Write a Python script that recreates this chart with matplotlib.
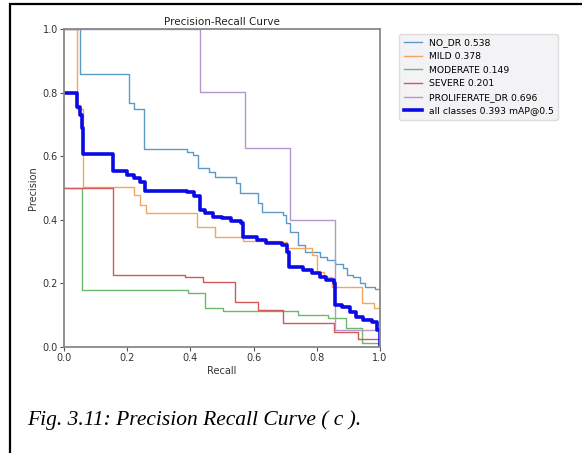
import numpy as np
import matplotlib
matplotlib.use("Agg")
import matplotlib.pyplot as plt
from matplotlib.patches import Rectangle

# step curves: recall where each flat segment starts, precision on it
no_dr_r = [0.0, 0.05, 0.206, 0.222, 0.253, 0.389, 0.408, 0.424, 0.459, 0.478, 0.544, 0.557,
           0.614, 0.627, 0.693, 0.703, 0.715, 0.741, 0.763, 0.81, 0.832, 0.858, 0.883,
           0.896, 0.915, 0.937, 0.953, 0.984, 1.0]
no_dr_p = [1.0, 0.858, 0.767, 0.75, 0.623, 0.613, 0.605, 0.563, 0.55, 0.535, 0.516, 0.484,
           0.453, 0.425, 0.415, 0.39, 0.362, 0.321, 0.299, 0.283, 0.274, 0.261, 0.248,
           0.226, 0.22, 0.201, 0.189, 0.182, 0.0]

mild_r = [0.0, 0.041, 0.06, 0.22, 0.24, 0.259, 0.42, 0.478, 0.567, 0.684, 0.705, 0.785,
          0.80, 0.823, 0.848, 0.943, 0.98, 1.0]
mild_p = [1.0, 0.75, 0.503, 0.478, 0.447, 0.421, 0.377, 0.346, 0.333, 0.33, 0.311, 0.289,
          0.236, 0.22, 0.189, 0.138, 0.123, 0.0]

moderate_r = [0.0, 0.057, 0.392, 0.446, 0.503, 0.74, 0.835, 0.892, 0.943, 1.0]
moderate_p = [0.5, 0.179, 0.17, 0.123, 0.113, 0.10, 0.091, 0.06, 0.013, 0.0]

severe_r = [0.0, 0.156, 0.383, 0.44, 0.541, 0.614, 0.693, 0.855, 0.93, 1.0]
severe_p = [0.5, 0.226, 0.22, 0.204, 0.141, 0.116, 0.077, 0.048, 0.025, 0.0]

prolif_r = [0.0, 0.43, 0.573, 0.715, 0.858, 1.0]
prolif_p = [1.0, 0.802, 0.626, 0.40, 0.053, 0.0]

all_r = [0.0, 0.041, 0.052, 0.057, 0.06, 0.155, 0.2, 0.22, 0.24, 0.255, 0.39, 0.41, 0.43,
         0.445, 0.47, 0.5, 0.53, 0.56, 0.565, 0.61, 0.64, 0.69, 0.705, 0.713, 0.755, 0.785,
         0.81, 0.83, 0.855, 0.858, 0.88, 0.905, 0.925, 0.945, 0.975, 0.99, 1.0]
all_p = [0.80, 0.755, 0.73, 0.69, 0.607, 0.553, 0.54, 0.53, 0.52, 0.49, 0.487, 0.475, 0.43,
         0.42, 0.41, 0.405, 0.395, 0.39, 0.345, 0.336, 0.327, 0.32, 0.30, 0.252, 0.242, 0.233,
         0.22, 0.21, 0.20, 0.132, 0.126, 0.11, 0.094, 0.085, 0.079, 0.053, 0.0]

names = ["NO_DR 0.538", "MILD 0.378", "MODERATE 0.149", "SEVERE 0.201", "PROLIFERATE_DR 0.696"]
colors = ["#5b9ac6", "#f2a65e", "#6cb86c", "#d4575a", "#b597cf"]
curves = [(no_dr_r, no_dr_p), (mild_r, mild_p), (moderate_r, moderate_p),
          (severe_r, severe_p), (prolif_r, prolif_p)]

fig = plt.figure(figsize=(5.82, 4.53), dpi=100)
ax = fig.add_axes([64/582, 106/453, 316/582, 318/453])

for (r, p), name, c in zip(curves, names, colors):
    ax.plot(r, p, drawstyle="steps-post", lw=1, color=c, label=name)
ax.plot(all_r, all_p, drawstyle="steps-post", lw=2.6, color="#0a0ae6",
        label="all classes 0.393 mAP@0.5")

ax.set_xlim(0, 1)
ax.set_ylim(0, 1)
ax.set_xticks([0, 0.2, 0.4, 0.6, 0.8, 1.0])
ax.set_yticks([0, 0.2, 0.4, 0.6, 0.8, 1.0])
ax.tick_params(labelsize=7, length=3, color="#555555", labelcolor="#333333", pad=1.5)
for s in ax.spines.values():
    s.set_color("#888888")
    s.set_linewidth(1.3)
ax.set_xlabel("Recall", fontsize=7, color="#333333", labelpad=2)
ax.set_ylabel("Precision", fontsize=7, color="#333333", labelpad=3)
ax.set_title("Precision-Recall Curve", fontsize=7.5, color="#222222", pad=3)

leg = ax.legend(bbox_to_anchor=(1.045, 1.0), loc="upper left", fontsize=6.7,
                frameon=True, handlelength=2.0, borderpad=0.5, labelspacing=0.5,
                handletextpad=0.7)
leg.get_frame().set_facecolor("#f3f3f6")
leg.get_frame().set_edgecolor("#dddddd")
leg.get_frame().set_alpha(1)

# page frame around the figure
fig.patches.append(Rectangle((10/582, -0.1), 1.2, 1 - 4/453 + 0.1, transform=fig.transFigure,
                             fill=False, edgecolor="black", linewidth=1.6))

fig.text(27/582, 1 - 425/453, "Fig. 3.11: Precision Recall Curve ( c ).",
         family="Liberation Serif", style="italic", fontsize=15.5, color="black",
         va="baseline", ha="left")

fig.savefig("out.png", dpi=100)
